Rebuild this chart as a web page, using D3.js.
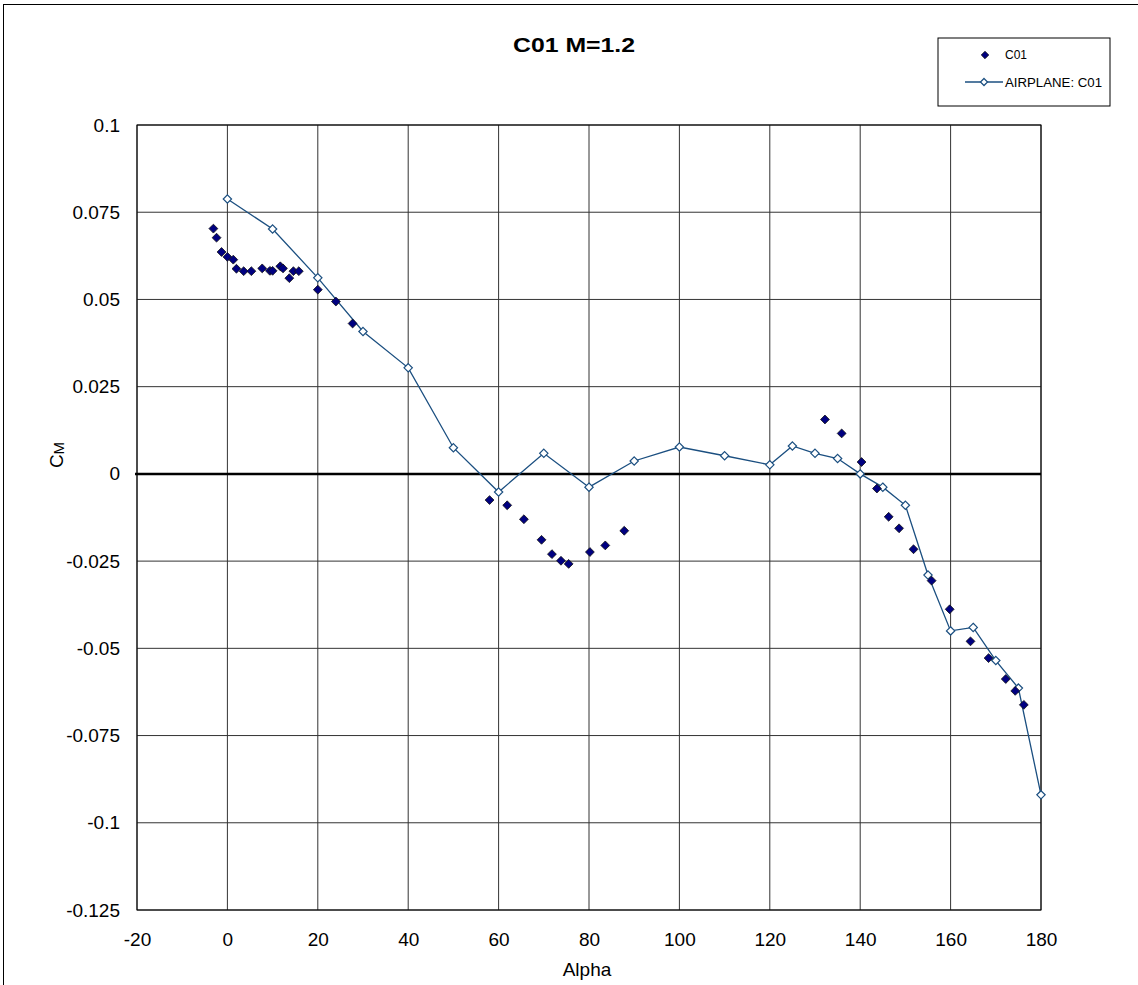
<!DOCTYPE html>
<html>
<head>
<meta charset="utf-8">
<script src="https://cdn.jsdelivr.net/npm/d3@7"></script>
<style>
  body { margin: 0; background: #fff; }
  text { font-family: "Liberation Sans", Arial, sans-serif; }
</style>
</head>
<body>
<script>
// C01 test points
var testAlpha = [-3.1, -2.4, -1.3, 0, 1.3, 2.0, 3.6, 5.3, 7.7, 9.4, 10.0, 11.7, 12.3, 13.7, 14.6, 15.8,
                 20.0, 24.0, 27.7,
                 58.0, 61.9, 65.6, 69.5, 71.8, 73.8, 75.5, 80.2, 83.6, 87.8,
                 132.2, 135.9, 140.3, 143.7, 146.3, 148.6, 151.8, 155.8, 159.8, 164.4, 168.4, 172.2, 174.3, 176.2]
var testCm = [0.0703, 0.0677, 0.0636, 0.0622, 0.0614, 0.0588, 0.0581, 0.0581, 0.0589, 0.0582, 0.0582, 0.0595, 0.0589, 0.0561, 0.0581, 0.0581,
              0.0528, 0.0494, 0.0431,
              -0.0075, -0.0090, -0.0130, -0.0189, -0.0230, -0.0249, -0.0258, -0.0224, -0.0205, -0.0163,
              0.0156, 0.0116, 0.0034, -0.0042, -0.0123, -0.0156, -0.0216, -0.0306, -0.0388, -0.0480, -0.0528, -0.0588, -0.0622, -0.0662]

// AIRPLANE: C01 curve
var planeAlpha = [0, 10, 20, 30, 40, 50, 60, 70, 80, 90, 100, 110, 120, 125, 130, 135, 140, 145, 150, 155, 160, 165, 170, 175, 180]
var planeCm = [0.0788, 0.0702, 0.0562, 0.0408, 0.0304, 0.0075, -0.0052, 0.0059, -0.0038, 0.0037, 0.0077, 0.0052, 0.0026, 0.0080,
               0.0059, 0.0044, 0.0, -0.0038, -0.0090, -0.0290, -0.0450, -0.0440, -0.0535, -0.0614, -0.0920]

var xTicks = [-20, 0, 20, 40, 60, 80, 100, 120, 140, 160, 180]
var yTicks = [0.1, 0.075, 0.05, 0.025, 0, -0.025, -0.05, -0.075, -0.1, -0.125]

var width = 1138, height = 985
var margin = { top: 125, left: 137, right: 97, bottom: 75 }

var svg = d3.select('body').append('svg')
    .attr('width', width)
    .attr('height', height)

// outer chart border
svg.append('rect')
    .attr('x', 3.5).attr('y', 4.5)
    .attr('width', 1150).attr('height', 1000)
    .attr('fill', 'none').attr('stroke', '#000').attr('stroke-width', 1)

var x = d3.scaleLinear().domain([-20, 180]).range([margin.left, width - margin.right])
var y = d3.scaleLinear().domain([-0.125, 0.1]).range([height - margin.bottom, margin.top])

var g = svg.append('g')

// grid
g.selectAll('line.vg').data(xTicks).enter().append('line')
    .attr('x1', d => x(d)).attr('x2', d => x(d))
    .attr('y1', y(0.1)).attr('y2', y(-0.125))
    .attr('stroke', '#333').attr('stroke-width', 1)
g.selectAll('line.hg').data(yTicks).enter().append('line')
    .attr('y1', d => y(d)).attr('y2', d => y(d))
    .attr('x1', x(-20)).attr('x2', x(180))
    .attr('stroke', '#333').attr('stroke-width', 1)

// zero line
g.append('line')
    .attr('x1', x(-20) - 2).attr('x2', x(180))
    .attr('y1', y(0)).attr('y2', y(0))
    .attr('stroke', '#000').attr('stroke-width', 2.5)

g.append('rect')
    .attr('x', x(-20)).attr('y', y(0.1))
    .attr('width', x(180) - x(-20)).attr('height', y(-0.125) - y(0.1))
    .attr('fill', 'none').attr('stroke', '#000').attr('stroke-width', 1)

// axes
var fmt = d => String(d)
var xAxis = d3.axisBottom(x).tickValues(xTicks).tickSize(0).tickPadding(23).tickFormat(fmt)
var yAxis = d3.axisLeft(y).tickValues(yTicks).tickSize(0).tickPadding(17).tickFormat(fmt)

var gx = svg.append('g').attr('transform', 'translate(0,' + y(-0.125) + ')').call(xAxis)
var gy = svg.append('g').attr('transform', 'translate(' + x(-20) + ',0)').call(yAxis)
;[gx, gy].forEach(function (a) {
    a.select('.domain').remove()
    a.selectAll('text').attr('font-size', 19).attr('fill', '#000')
        .style('font-family', '"Liberation Sans", Arial, sans-serif')
})

// airplane line
var line = d3.line().x(d => x(d[0])).y(d => y(d[1]))
var planePts = planeAlpha.map((a, i) => [a, planeCm[i]])
svg.append('path')
    .datum(planePts)
    .attr('d', line)
    .attr('fill', 'none')
    .attr('stroke', '#1b4f80')
    .attr('stroke-width', 1.3)

var diamond = d3.symbol().type(d3.symbolDiamond2)

svg.selectAll('path.plane').data(planePts).enter().append('path')
    .attr('d', diamond.size(44))
    .attr('transform', d => 'translate(' + x(d[0]) + ',' + y(d[1]) + ')')
    .attr('fill', '#fff').attr('stroke', '#1b4f80').attr('stroke-width', 1.2)

var testPts = testAlpha.map((a, i) => [a, testCm[i]])
svg.selectAll('path.test').data(testPts).enter().append('path')
    .attr('d', d3.symbol().type(d3.symbolDiamond2).size(50))
    .attr('transform', d => 'translate(' + x(d[0]) + ',' + y(d[1]) + ')')
    .attr('fill', '#000080').attr('stroke', '#111').attr('stroke-width', 0.8)

// title and labels
svg.append('text')
    .attr('x', 574).attr('y', 52)
    .attr('text-anchor', 'middle')
    .attr('font-size', 20).attr('font-weight', 'bold')
    .attr('textLength', 122).attr('lengthAdjust', 'spacingAndGlyphs')
    .text('C01 M=1.2')

svg.append('text')
    .attr('x', 587).attr('y', 976)
    .attr('text-anchor', 'middle')
    .attr('font-size', 19)
    .text('Alpha')

var yl = svg.append('text')
    .attr('transform', 'translate(63,455) rotate(-90)')
    .attr('text-anchor', 'middle')
    .attr('font-size', 19)
yl.append('tspan').text('C')
yl.append('tspan').attr('font-size', 15).attr('dy', 1).text('M')

// legend
var lg = svg.append('g').attr('transform', 'translate(938,38)')
lg.append('rect').attr('width', 172).attr('height', 68)
    .attr('fill', '#fff').attr('stroke', '#000').attr('stroke-width', 1)
lg.append('path')
    .attr('d', d3.symbol().type(d3.symbolDiamond2).size(36))
    .attr('transform', 'translate(47,17)')
    .attr('fill', '#000080').attr('stroke', '#111').attr('stroke-width', 0.8)
lg.append('text').attr('x', 67).attr('y', 21).attr('font-size', 12).text('C01')
lg.append('line').attr('x1', 27).attr('x2', 65).attr('y1', 44).attr('y2', 44)
    .attr('stroke', '#1b4f80').attr('stroke-width', 1.3)
lg.append('path')
    .attr('d', d3.symbol().type(d3.symbolDiamond2).size(32))
    .attr('transform', 'translate(46,44)')
    .attr('fill', '#fff').attr('stroke', '#1b4f80').attr('stroke-width', 1.2)
lg.append('text').attr('x', 67).attr('y', 49).attr('font-size', 12)
    .attr('textLength', 97).attr('lengthAdjust', 'spacingAndGlyphs')
    .text('AIRPLANE: C01')
</script>
</body>
</html>
